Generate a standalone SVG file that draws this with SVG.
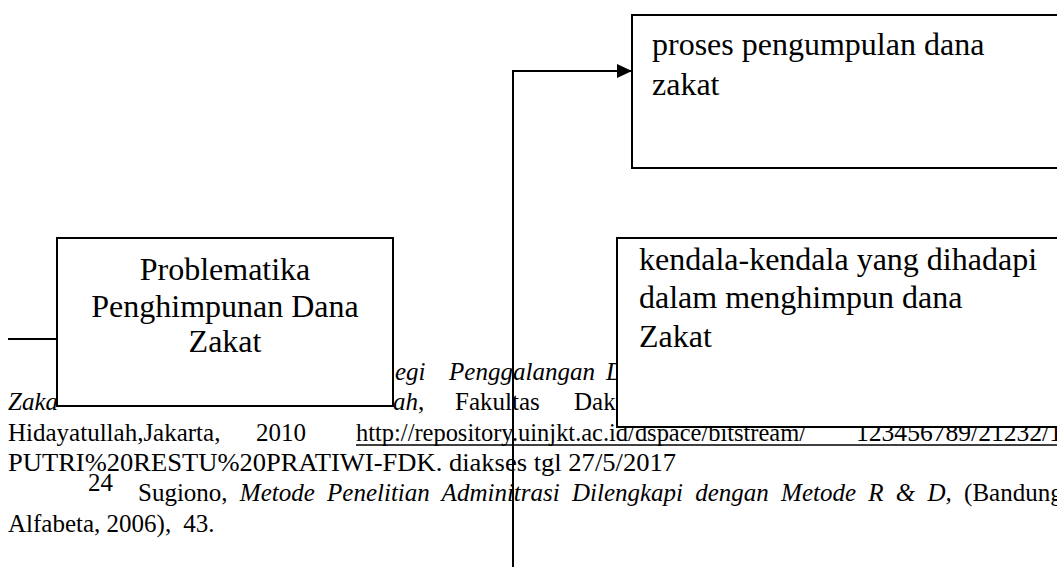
<svg xmlns="http://www.w3.org/2000/svg" width="1057" height="567" viewBox="0 0 1057 567">
<style>
.fn{font-family:"Liberation Serif","Times New Roman",serif;font-size:25px;fill:#000}
.it{font-style:italic}
.bx{fill:#fff;stroke:#000;stroke-width:2}
.bt{font-family:"Liberation Serif","Times New Roman",serif;font-size:32px;fill:#000}
.cn{fill:none;stroke:#000;stroke-width:2}
</style>
<defs>
<marker id="ah" markerUnits="userSpaceOnUse" markerWidth="16" markerHeight="14" refX="15" refY="7" orient="auto">
<path d="M0,0 L15,7 L0,14 Z" fill="#000"/>
</marker>
</defs>
<rect width="1057" height="567" fill="#fff"/>
<g id="footnotes">
<text class="fn it" x="395" y="380">egi</text>
<text class="fn it" x="449" y="380" textLength="146" lengthAdjust="spacingAndGlyphs">Penggalangan</text>
<text class="fn it" x="606" y="380">D</text>
<text class="fn it" x="8" y="410">Zaka</text>
<text class="fn it" x="393" y="410">ah<tspan font-style="normal">,</tspan></text>
<text class="fn" x="455" y="410">Fakultas</text>
<text class="fn" x="574" y="410">Dak</text>
<text class="fn" x="8" y="441">Hidayatullah,Jakarta,</text>
<text class="fn" x="256" y="441">2010</text>
<text class="fn" x="356" y="441" textLength="450" lengthAdjust="spacingAndGlyphs">http://repository.uinjkt.ac.id/dspace/bitstream/</text>
<text class="fn" x="856" y="441" textLength="206" lengthAdjust="spacingAndGlyphs">123456789/21232/1</text>
<line x1="356" y1="445" x2="1057" y2="445" stroke="#000" stroke-width="1.5"/>
<text class="fn" x="8" y="471" textLength="668" lengthAdjust="spacingAndGlyphs">PUTRI%20RESTU%20PRATIWI-FDK. diakses tgl 27/5/2017</text>
<text class="fn" x="88" y="491" font-size="14">24</text>
<text class="fn" x="138" y="501" word-spacing="6">Sugiono, <tspan class="it">Metode Penelitian Adminitrasi Dilengkapi dengan Metode R &amp; D,</tspan> (Bandung:</text>
<text class="fn" x="8" y="532">Alfabeta, 2006),<tspan dx="12">43.</tspan></text>
</g>
<g id="connectors">
<line class="cn" x1="8" y1="339" x2="57" y2="339"/>
<path class="cn" d="M513,567 V71 H632" marker-end="url(#ah)"/>
</g>
<g id="node-problematika">
<rect class="bx" x="57" y="238" width="336" height="168"/>
<text class="bt" text-anchor="middle"><tspan x="225" y="280">Problematika</tspan><tspan x="225" y="317">Penghimpunan Dana</tspan><tspan x="225" y="352">Zakat</tspan></text>
</g>
<g id="node-proses">
<rect class="bx" x="632" y="15" width="440" height="153"/>
<text class="bt"><tspan x="652" y="55">proses pengumpulan dana</tspan><tspan x="652" y="95">zakat</tspan></text>
</g>
<g id="node-kendala">
<rect class="bx" x="617" y="238" width="450" height="189"/>
<text class="bt"><tspan x="639" y="270">kendala-kendala yang dihadapi</tspan><tspan x="639" y="308">dalam menghimpun dana</tspan><tspan x="639" y="347">Zakat</tspan></text>
</g>
</svg>
